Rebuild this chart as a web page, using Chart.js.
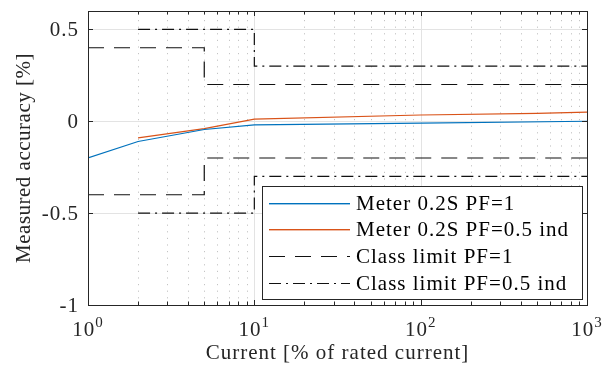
<!DOCTYPE html>
<html>
<head>
<meta charset="utf-8">
<script src="https://cdn.jsdelivr.net/npm/chart.js@4/dist/chart.umd.min.js"></script>
<style>
  html, body { margin: 0; padding: 0; background: #fff; }
  #wrap { width: 602px; height: 365px; }
</style>
</head>
<body>
<div id="wrap"><canvas id="accuracyChart" width="602" height="365"></canvas></div>
<script>
// Measured meter error vs. current, with class 0.2S limits
const currentPf1 = [1, 2, 5, 10, 100, 1000];
const errorPf1 = [-0.2, -0.11, -0.045, -0.02, -0.01, 0];

const currentInd = [2, 5, 10, 100, 500, 1000];
const errorInd = [-0.09, -0.04, 0.012, 0.034, 0.043, 0.05];

// step limits (upper half, lower half is mirrored)
const limitPf1X = [1, 5, 5, 1000];
const limitPf1Y = [0.4, 0.4, 0.2, 0.2];
const limitIndX = [2, 10, 10, 1000];
const limitIndY = [0.5, 0.5, 0.3, 0.3];

const xTicks = [1, 10, 100, 1000];
const yTicks = [-1, -0.5, 0, 0.5];

const legendLabels = ['Meter 0.2S PF=1', 'Meter 0.2S PF=0.5 ind', 'Class limit PF=1', 'Class limit PF=0.5 ind'];

const BLUE = '#0072BD';
const ORANGE = '#D95319';
const LIMIT = '#111111';
const AXIS = '#262626';
const DASH = [16, 10];
const DASH_DOT = [12, 5, 2, 5];
const FONT = '"Liberation Serif", "DejaVu Serif", serif';

const legendStyles = [
    { color: BLUE, dash: null },
    { color: ORANGE, dash: null },
    { color: LIMIT, dash: DASH },
    { color: LIMIT, dash: DASH_DOT }
];

const toPoints = (xs, ys, sign = 1) => xs.map((x, i) => ({ x, y: sign * ys[i] }));

// upper branch, a gap, then the mirrored lower branch
const stepLimit = (xs, ys) => [...toPoints(xs, ys), { x: xs[xs.length - 1], y: null }, ...toPoints(xs, ys, -1)];

const minorValues = [];
[1, 10, 100].forEach(d => { for (let m = 2; m <= 9; m++) minorValues.push(m * d); });

const axesFrame = {
    id: 'axesFrame',
    beforeDatasetsDraw(chart) {
        const { ctx, chartArea: a, scales: { x, y } } = chart;
        ctx.save();
        // minor x grid, dotted
        ctx.strokeStyle = '#c4c4c4';
        ctx.lineWidth = 1;
        ctx.setLineDash([1.2, 5.4]);
        minorValues.forEach(v => {
            const px = Math.round(x.getPixelForValue(v)) + 0.5;
            ctx.beginPath();
            ctx.moveTo(px, a.bottom);
            ctx.lineTo(px, a.top);
            ctx.stroke();
        });
        // major grid
        ctx.setLineDash([]);
        ctx.strokeStyle = '#e3e3e3';
        xTicks.forEach(v => {
            const px = Math.round(x.getPixelForValue(v)) + 0.5;
            ctx.beginPath();
            ctx.moveTo(px, a.top);
            ctx.lineTo(px, a.bottom);
            ctx.stroke();
        });
        yTicks.forEach(v => {
            const py = Math.round(y.getPixelForValue(v)) + 0.5;
            ctx.beginPath();
            ctx.moveTo(a.left, py);
            ctx.lineTo(a.right, py);
            ctx.stroke();
        });
        ctx.restore();
    },
    afterDatasetsDraw(chart) {
        const { ctx, chartArea: a, scales: { x, y } } = chart;
        ctx.save();
        ctx.strokeStyle = AXIS;
        ctx.lineWidth = 1;
        ctx.setLineDash([]);
        ctx.strokeRect(Math.round(a.left) + 0.5, Math.round(a.top) + 0.5,
            Math.round(a.right - a.left), Math.round(a.bottom - a.top));

        // inward ticks
        ctx.beginPath();
        minorValues.forEach(v => {
            const px = Math.round(x.getPixelForValue(v)) + 0.5;
            ctx.moveTo(px, a.bottom); ctx.lineTo(px, a.bottom - 3.5);
            ctx.moveTo(px, a.top); ctx.lineTo(px, a.top + 3.5);
        });
        xTicks.forEach(v => {
            const px = Math.round(x.getPixelForValue(v)) + 0.5;
            ctx.moveTo(px, a.bottom); ctx.lineTo(px, a.bottom - 5);
            ctx.moveTo(px, a.top); ctx.lineTo(px, a.top + 5);
        });
        yTicks.forEach(v => {
            const py = Math.round(y.getPixelForValue(v)) + 0.5;
            ctx.moveTo(a.left, py); ctx.lineTo(a.left + 5, py);
            ctx.moveTo(a.right, py); ctx.lineTo(a.right - 5, py);
        });
        ctx.stroke();

        ctx.letterSpacing = '1px';

        // tick labels
        ctx.fillStyle = AXIS;
        ctx.font = `21px ${FONT}`;
        ctx.textAlign = 'right';
        ctx.textBaseline = 'middle';
        yTicks.forEach(v => ctx.fillText(String(v), a.left - 9, y.getPixelForValue(v) + 1));

        ctx.textBaseline = 'alphabetic';
        ctx.textAlign = 'left';
        xTicks.forEach(v => {
            const exp = String(Math.round(Math.log10(v)));
            ctx.font = `21px ${FONT}`;
            const wBase = ctx.measureText('10').width;
            ctx.font = `15px ${FONT}`;
            const wExp = ctx.measureText(exp).width;
            const left = x.getPixelForValue(v) - (wBase + wExp) / 2;
            ctx.font = `21px ${FONT}`;
            ctx.fillText('10', left, a.bottom + 31);
            ctx.font = `15px ${FONT}`;
            ctx.fillText(exp, left + wBase, a.bottom + 22);
        });

        // axis titles
        ctx.font = `21px ${FONT}`;
        ctx.textAlign = 'center';
        ctx.fillText('Current [% of rated current]', (a.left + a.right) / 2, a.bottom + 54);
        ctx.save();
        ctx.letterSpacing = '0.5px';
        ctx.translate(30, (a.top + a.bottom) / 2);
        ctx.rotate(-Math.PI / 2);
        ctx.fillText('Measured accuracy [%]', 0, 0);
        ctx.restore();

        // legend box
        const box = { l: 262, t: 186, r: 582, b: 299 };
        ctx.fillStyle = '#fff';
        ctx.fillRect(box.l, box.t, box.r - box.l, box.b - box.t);
        ctx.strokeStyle = AXIS;
        ctx.strokeRect(box.l + 0.5, box.t + 0.5, box.r - box.l, box.b - box.t);
        ctx.textAlign = 'left';
        ctx.textBaseline = 'middle';
        legendLabels.forEach((label, i) => {
            const cy = Math.round(box.t + 16.5 + i * 26.7);
            const st = legendStyles[i];
            if (st.dash) {
                ctx.strokeStyle = st.color;
                ctx.lineWidth = 1.2;
                ctx.setLineDash(st.dash);
                ctx.beginPath();
                ctx.moveTo(269, cy + 0.5);
                ctx.lineTo(350, cy + 0.5);
                ctx.stroke();
            } else {
                ctx.fillStyle = st.color;
                ctx.fillRect(269, cy, 81, 1.4);
            }
            ctx.fillStyle = '#000';
            ctx.fillText(label, 356, cy + 1);
        });
        ctx.restore();
    }
};

new Chart(document.getElementById('accuracyChart'), {
    type: 'line',
    data: {
        datasets: [
            { data: toPoints(currentPf1, errorPf1), borderColor: BLUE, borderWidth: 1.2 },
            { data: toPoints(currentInd, errorInd), borderColor: ORANGE, borderWidth: 1.2 },
            { data: stepLimit(limitPf1X, limitPf1Y), borderColor: LIMIT, borderWidth: 1.2, borderDash: DASH },
            { data: stepLimit(limitIndX, limitIndY), borderColor: LIMIT, borderWidth: 1.2, borderDash: DASH_DOT }
        ]
    },
    options: {
        responsive: false,
        animation: false,
        spanGaps: false,
        layout: { padding: { left: 88, right: 15, top: 11, bottom: 60 } },
        elements: { point: { radius: 0 }, line: { tension: 0 } },
        scales: {
            x: { type: 'logarithmic', min: 1, max: 1000, display: false },
            y: { type: 'linear', min: -1, max: 0.6, display: false }
        },
        plugins: {
            legend: { display: false },
            tooltip: { enabled: false }
        }
    },
    plugins: [axesFrame]
});
</script>
</body>
</html>
